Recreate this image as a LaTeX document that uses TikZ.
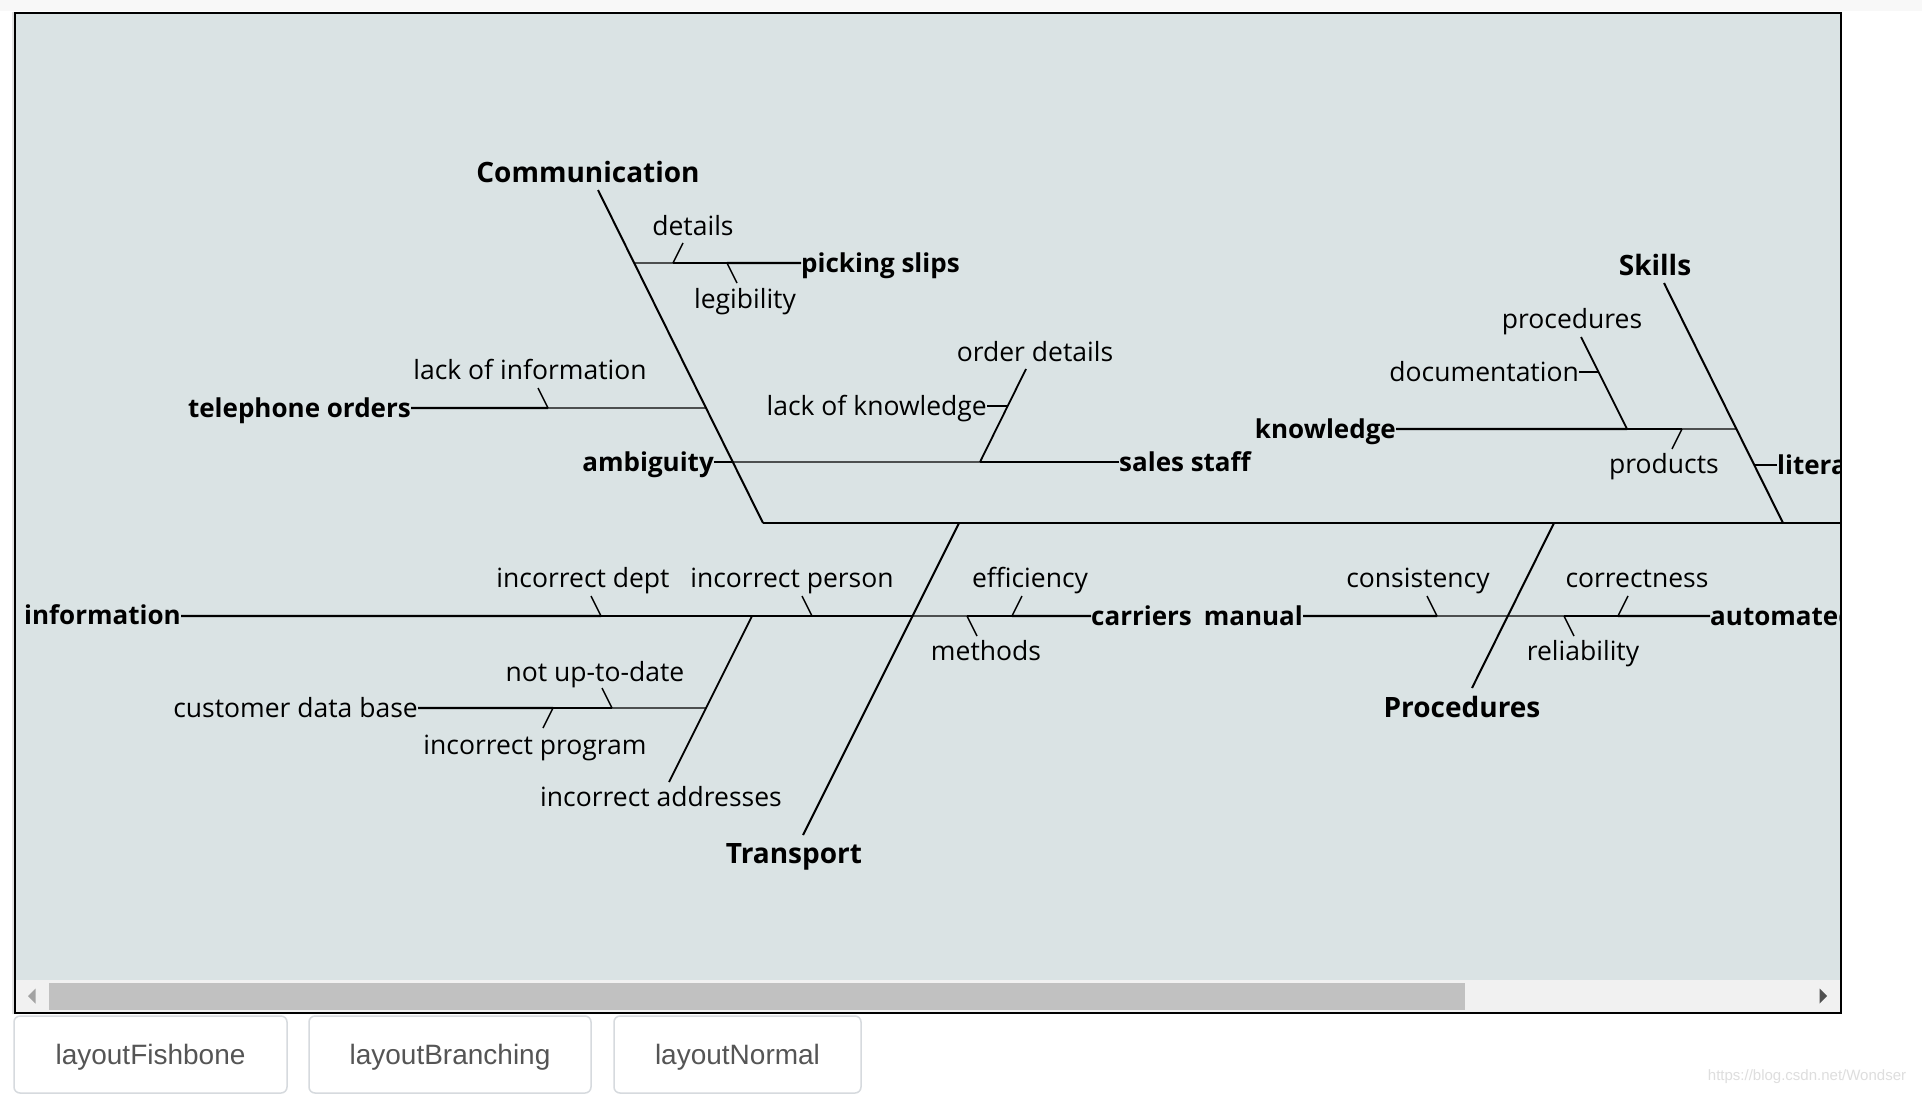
\documentclass[tikz,border=0pt]{standalone}
\usepackage{fontspec}
\setmainfont{Open Sans}
\newfontfamily\arialfont{Liberation Sans}
\usetikzlibrary{calc}
\definecolor{bgc}{RGB}{218,227,228}
\definecolor{trackc}{RGB}{241,241,241}
\definecolor{thumbc}{RGB}{193,193,193}
\definecolor{stripc}{RGB}{248,248,248}
\definecolor{shadowc}{RGB}{228,228,228}
\definecolor{btnborder}{RGB}{214,218,222}
\definecolor{btntext}{RGB}{85,85,85}
\definecolor{arrowdark}{RGB}{80,80,80}
\definecolor{arrowlight}{RGB}{163,163,163}
\definecolor{wmark}{RGB}{222,222,222}
\begin{document}
\begin{tikzpicture}[x=1pt,y=-1pt,
  spine/.style={line width=2.2pt},
  bone/.style={line width=2pt},
  subbone/.style={line width=1.8pt},
  tickline/.style={line width=1.4pt},
  wthick/.style={line width=2.4pt},
  wmed/.style={line width=1.8pt},
  wthin/.style={line width=1.2pt},
  cat/.style={font=\fontsize{28}{34}\selectfont\bfseries, inner sep=0pt, text height=20.5pt, text depth=0pt},
  blab/.style={font=\fontsize{26}{31}\selectfont\bfseries, inner sep=0pt},
  bw/.style={blab, anchor=base west},
  be/.style={blab, anchor=base east},
  lab/.style={font=\fontsize{26.5}{32}\selectfont, inner sep=0pt, text height=19pt, text depth=0pt},
  ne/.style={font=\fontsize{26.5}{32}\selectfont, inner sep=0pt, anchor=base east},
  btn/.style={draw=btnborder, line width=1.5pt, fill=white, rounded corners=6pt,
    font=\arialfont\fontsize{28}{34}\selectfont, text=btntext, inner sep=0pt,
    text height=26.5pt, text depth=6pt, minimum height=77pt},
]
\useasboundingbox (0,0) rectangle (1922,1095);
\fill[white] (0,0) rectangle (1922,1095);
\fill[stripc] (0,0) rectangle (1922,10.5);
\fill[shadowc] (11.5,12) rectangle (14,1014);
% panel
\fill[bgc] (15,12.5) rectangle (1840.8,1013.3);
% scrollbar
\fill[trackc] (16,980) rectangle (1839.8,1012.3);
\fill[thumbc] (49,982.5) rectangle (1465,1010);
\fill[arrowlight] (28,996) -- (35.5,988.5) -- (35.5,1003.5) -- cycle;
\fill[arrowdark] (1827,996) -- (1819.5,988.5) -- (1819.5,1003.5) -- cycle;

\begin{scope}
\clip (16,13.5) rectangle (1839.8,979);
% main bones
\coordinate (commTop) at (598,190);
\coordinate (commBot) at (763,523);
\coordinate (transTop) at (959,523);
\coordinate (transBot) at (803,835);
\coordinate (procTop) at (1554,523);
\coordinate (procBot) at (1472,688);
\coordinate (skillsTop) at (1664,283);
\coordinate (skillsBot) at (1783,523);
\coordinate (spineEnd) at (1870,523);
\draw[spine] (commBot) -- (spineEnd);
\draw[bone] (commTop) -- (commBot);
\draw[bone] (transTop) -- (transBot);
\draw[bone] (procTop) -- (procBot);
\draw[bone] (skillsTop) -- (skillsBot);
\node[cat] (comm) at (588,172) {Communication};
\node[cat] (skills) at (1655,265) {Skills};
\node[cat] (proc) at (1462,707) {Procedures};
\node[cat] (trans) at (794,853) {Transport};

% junctions on bones
\coordinate (jPS) at ($(commTop)!0.2192!(commBot)$);
\coordinate (jTel) at ($(commTop)!0.6547!(commBot)$);
\coordinate (jAmb) at ($(commTop)!0.8168!(commBot)$);
\coordinate (jKnow) at ($(skillsTop)!0.6083!(skillsBot)$);
\coordinate (jLit) at ($(skillsTop)!0.7583!(skillsBot)$);
\coordinate (jMan) at ($(procTop)!0.5636!(procBot)$);
\coordinate (jInfo) at ($(transTop)!0.2981!(transBot)$);

% picking slips
\node[bw] (ps) at (801,272) {picking slips};
\coordinate (jDet) at (673,263); \coordinate (eDet) at (683,243);
\coordinate (jLeg) at (727,263); \coordinate (eLeg) at (737,283);
\draw[wthick] (ps.west |- jPS) -- (jLeg);
\draw[wmed] (jLeg) -- (jDet);
\draw[wthin] (jDet) -- (jPS);
\draw[tickline] (jDet) -- (eDet);
\draw[tickline] (jLeg) -- (eLeg);
\node[lab] (det) at (693,226) {details};
\node[lab] (leg) at (745,299) {legibility};

% telephone orders
\node[be] (tel) at (411,417) {telephone orders};
\coordinate (jLoi) at (548,408); \coordinate (eLoi) at (538,388);
\draw[wthick] (tel.east |- jTel) -- (jLoi);
\draw[wthin] (jLoi) -- (jTel);
\draw[tickline] (jLoi) -- (eLoi);
\node[lab] (loi) at (530,370) {lack of information};

% ambiguity / sales staff
\node[be] (amb) at (714,471.5) {ambiguity};
\node[bw] (ss) at (1119,471) {sales staff};
\coordinate (jSS) at (980,462); \coordinate (odTop) at (1026,369);
\draw[wthin] (amb.east |- jAmb) -- (jAmb);
\draw[wthin] (jAmb) -- (jSS);
\draw[wthick] (jSS) -- (ss.west |- jSS);
\draw[subbone] (jSS) -- (odTop);
\node[lab] (od) at (1035,352) {order details};
\coordinate (jLok) at ($(jSS)!0.6022!(odTop)$);
\node[ne] (lok) at (987,415) {lack of knowledge};
\draw[wthin] (lok.east |- jLok) -- (jLok);

% knowledge
\node[be] (know) at (1396,438) {knowledge};
\coordinate (jKP) at (1627,429); \coordinate (kpTop) at (1581,337);
\coordinate (jProd) at (1682,429); \coordinate (eProd) at (1672,449);
\draw[wthick] (know.east |- jKnow) -- (jKP);
\draw[wmed] (jKP) -- (jProd);
\draw[wthin] (jProd) -- (jKnow);
\draw[subbone] (jKP) -- (kpTop);
\node[lab] (procs) at (1572,319) {procedures};
\coordinate (jDoc) at ($(jKP)!0.6196!(kpTop)$);
\node[ne] (doc) at (1579,381) {documentation};
\draw[wthin] (doc.east |- jDoc) -- (jDoc);
\draw[tickline] (jProd) -- (eProd);
\node[lab] (prod) at (1664,464) {products};

% literacy
\node[bw] (lit) at (1777,474) {literacy};
\draw[wthin] (jLit) -- (lit.west |- jLit);

% manual / automated
\node[be] (man) at (1303,625) {manual};
\node[bw] (auto) at (1710,625) {automated};
\coordinate (jCons) at (1437,616); \coordinate (eCons) at (1427,596);
\coordinate (jRel) at (1564,616); \coordinate (eRel) at (1574,636);
\coordinate (jCorr) at (1618,616); \coordinate (eCorr) at (1628,596);
\draw[wthick] (man.east |- jMan) -- (jCons);
\draw[wthin] (jCons) -- (jMan);
\draw[wthin] (jMan) -- (jRel);
\draw[wmed] (jRel) -- (jCorr);
\draw[wthick] (jCorr) -- (auto.west |- jMan);
\draw[tickline] (jCons) -- (eCons);
\draw[tickline] (jRel) -- (eRel);
\draw[tickline] (jCorr) -- (eCorr);
\node[lab] (cons) at (1418,577.5) {consistency};
\node[lab] (corr) at (1637,577.5) {correctness};
\node[lab] (rel) at (1583,650.5) {reliability};

% information / carriers
\node[be] (info) at (181,624.5) {information};
\node[bw] (car) at (1091,625) {carriers};
\coordinate (jIdept) at (601,616); \coordinate (eIdept) at (591,596);
\coordinate (jIA) at (752,616); \coordinate (iaBot) at (669,782);
\coordinate (jIper) at (812,616); \coordinate (eIper) at (802,596);
\coordinate (jMeth) at (967,616); \coordinate (eMeth) at (977,636);
\coordinate (jEff) at (1012,616); \coordinate (eEff) at (1022,596);
\draw[wthick] (info.east |- jInfo) -- (jIdept);
\draw[wthick] (jIdept) -- (jIA);
\draw[wmed] (jIA) -- (jIper);
\draw[wmed] (jIper) -- (jInfo);
\draw[wthin] (jInfo) -- (jMeth);
\draw[wmed] (jMeth) -- (jEff);
\draw[wthick] (jEff) -- (car.west |- jInfo);
\draw[tickline] (jIdept) -- (eIdept);
\draw[tickline] (jIper) -- (eIper);
\draw[tickline] (jMeth) -- (eMeth);
\draw[tickline] (jEff) -- (eEff);
\node[lab] (idept) at (583,577.5) {incorrect dept};
\node[lab] (iper) at (792,577.5) {incorrect person};
\node[lab] (eff) at (1030,577.5) {efficiency};
\node[lab] (meth) at (986,650.5) {methods};
\draw[subbone] (jIA) -- (iaBot);
\node[lab] (ia) at (661,797) {incorrect addresses};

% customer data base
\coordinate (jCdb) at ($(jIA)!0.5542!(iaBot)$);
\node[ne] (cdb) at (418,717) {customer data base};
\coordinate (jIprog) at (553,708); \coordinate (eIprog) at (543,728);
\coordinate (jNutd) at (612,708); \coordinate (eNutd) at (602,688);
\draw[wthick] (cdb.east |- jCdb) -- (jIprog);
\draw[wmed] (jIprog) -- (jNutd);
\draw[wthin] (jNutd) -- (jCdb);
\draw[tickline] (jIprog) -- (eIprog);
\draw[tickline] (jNutd) -- (eNutd);
\node[lab] (nutd) at (595,672) {not up-to-date};
\node[lab] (iprog) at (535,745) {incorrect program};
\end{scope}

% frame
\draw[line width=2pt] (15,12.5) rectangle (1840.8,1013.3);

% buttons
\node[btn, minimum width=273pt] (b1) at (150.5,1054.5) {layoutFishbone};
\node[btn, minimum width=282pt] (b2) at (450,1054.5) {layoutBranching};
\node[btn, minimum width=247pt] (b3) at (737.5,1054.5) {layoutNormal};

% watermark
\node[font=\arialfont\fontsize{15}{18}\selectfont, text=wmark, inner sep=0pt] (wm) at (1807,1077) {https://blog.csdn.net/Wondser};
\end{tikzpicture}
\end{document}
